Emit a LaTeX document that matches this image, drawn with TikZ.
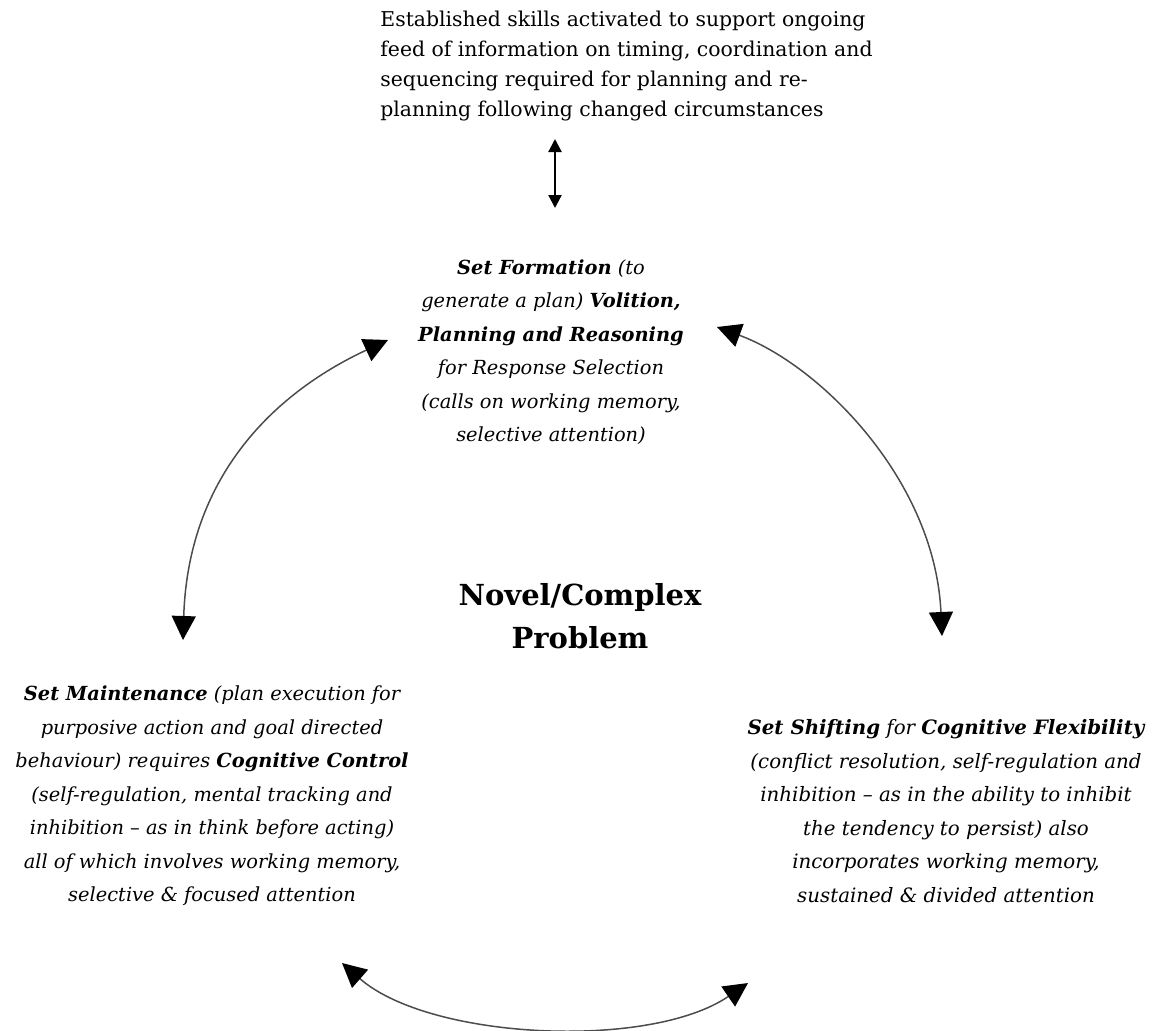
\documentclass[tikz,border=0pt]{standalone}
\usepackage{fontspec}
\setmainfont{DejaVu Serif}
\usetikzlibrary{arrows.meta}
\begin{document}
\begin{tikzpicture}[x=0.5pt,y=-0.5pt,
  blurb/.style={font=\fontsize{10.2}{15}\selectfont, align=left, inner sep=0pt},
  stage/.style={font=\fontsize{9.7}{16.75}\selectfont\itshape, align=center, inner sep=0pt},
  core/.style={font=\fontsize{14.5}{21.5}\selectfont\bfseries, align=center, inner sep=0pt},
  loop/.style={draw=black!70, line width=0.75pt, {Triangle[length=12pt,width=12pt,color=black]}-{Triangle[length=12pt,width=12pt,color=black]}},
  link/.style={draw=black, line width=1.1pt, {Triangle[length=6.5pt,width=6.5pt]}-{Triangle[length=6.5pt,width=6.5pt]}}]
\useasboundingbox (0,0) rectangle (1152,1030);

% text blocks
\node[blurb, anchor=west] (info) at (380,66)
  {Established skills activated to support ongoing\\
   feed of information on timing, coordination and\\
   sequencing required for planning and re-\\
   planning following changed circumstances};

\node[stage] (form) at (551,352)
  {\textbf{Set Formation} (to\\
   generate a plan) \textbf{Volition,}\\
   \textbf{Planning and Reasoning}\\
   for Response Selection\\
   (calls on working memory,\\
   selective attention)};

\node[core] (prob) at (580,616) {Novel/Complex\\Problem};

\node[stage] (maint) at (212,796)
  {\textbf{Set Maintenance} (plan execution for\\
   purposive action and goal directed\\
   behaviour) requires \textbf{Cognitive Control}\\
   (self-regulation, mental tracking and\\
   inhibition – as in think before acting)\\
   all of which involves working memory,\\
   selective \& focused attention};

\node[stage, font=\fontsize{9.9}{16.75}\selectfont\itshape] (shift) at (946,811)
  {\textbf{Set Shifting} for \textbf{Cognitive Flexibility}\\
   (conflict resolution, self-regulation and\\
   inhibition – as in the ability to inhibit\\
   the tendency to persist) also\\
   incorporates working memory,\\
   sustained \& divided attention};

% arc end points around the problem
\coordinate (infoEnd) at (555,139);
\coordinate (formTop) at (555,208);
\coordinate (formL) at (388,340);
\coordinate (maintT) at (183,640);
\coordinate (formR) at (717,327);
\coordinate (shiftT) at (942,636);
\coordinate (maintB) at (342,963);
\coordinate (shiftB) at (748,983);

% connectors
\draw[link] (infoEnd) -- (formTop);
\draw[loop] (maintT) .. controls (188,480) and (270,395) .. (formL);
\draw[loop] (formR) .. controls (820,365) and (935,480) .. (shiftT);
\draw[loop] (maintB) .. controls (430,1040) and (650,1050) .. (shiftB);
\end{tikzpicture}
\end{document}
